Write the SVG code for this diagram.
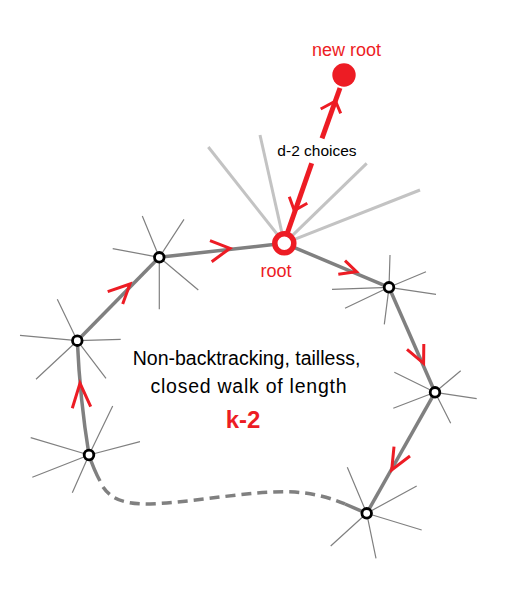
<svg xmlns="http://www.w3.org/2000/svg" width="520" height="616" viewBox="0 0 520 616">
<style>
.edge{stroke:#808080;stroke-width:3.5;fill:none;stroke-linecap:butt}
.dash{stroke:#808080;stroke-width:3.5;fill:none;stroke-dasharray:10 6}
.spoke{stroke:#808080;stroke-width:1.2;fill:none}
.light{stroke:#c3c3c3;stroke-width:3;fill:none}
.chev{stroke:#ed1c24;stroke-width:3;fill:none;stroke-linecap:butt;stroke-linejoin:miter}
.red{stroke:#ed1c24;stroke-width:5;fill:none}
.node{fill:#fff;stroke:#000;stroke-width:2.8}
text{font-family:"Liberation Sans",Arial,sans-serif}
.lbl{font-size:19.5px;fill:#000;text-anchor:middle}
.rl{font-size:18px;fill:#ed1c24;text-anchor:middle}
</style>
<g id="connectors">
<line class="edge" x1="159.3" y1="257.3" x2="284.3" y2="243.3"/>
<line class="edge" x1="284.3" y1="243.3" x2="389" y2="287.3"/>
<line class="edge" x1="389" y1="287.3" x2="435" y2="392.3"/>
<line class="edge" x1="435" y1="392.3" x2="366.7" y2="513.3"/>
<line class="edge" x1="77.3" y1="340.7" x2="159.3" y2="257.3"/>
<path class="edge" d="M89,455 Q80,400 77.3,340.7"/>
<path class="edge" d="M89,455 Q94,470 100,481"/>
<path class="dash" d="M103,487 C112,500 125,504 150,504 C200,502 250,490 295,492 C320,494 335,500 345,504"/>
<path class="edge" d="M345,504 L366.7,513.3"/>
<line class="red" x1="340" y1="88" x2="322" y2="138.3"/>
<line class="red" x1="311.7" y1="163.3" x2="287" y2="234"/>
<polyline class="chev" points="320.7,109 335.5,101 340.7,113.3"/>
<polyline class="chev" points="289.3,196.7 294.3,210.5 307.3,203.3"/>
<polyline class="chev" points="210,240.7 230,248.3 211.7,261.7"/>
<polyline class="chev" points="345,260.7 356.5,271.7 338.3,274.2"/>
<polyline class="chev" points="407,349.3 423.6,363.3 423.8,344"/>
<polyline class="chev" points="394,446.7 391.7,470 410,456"/>
<polyline class="chev" points="72.3,408.3 80,383.3 90.7,406.7"/>
<polyline class="chev" points="107.7,291.7 130,284 122.7,304"/>
</g>
<g id="root">
<line class="light" x1="284.3" y1="243.3" x2="208.3" y2="147"/>
<line class="light" x1="284.3" y1="243.3" x2="260" y2="135"/>
<line class="light" x1="284.3" y1="243.3" x2="366.7" y2="163.3"/>
<line class="light" x1="284.3" y1="243.3" x2="420" y2="190"/>
<circle cx="284.3" cy="243.3" r="9.5" fill="#fff" stroke="#ed1c24" stroke-width="5.5"/>
<text class="rl" x="276" y="276.5">root</text>
</g>
<g id="new-root">
<circle cx="344" cy="75" r="11.7" fill="#ed1c24"/>
<text class="rl" x="346.5" y="56">new root</text>
</g>
<g id="choices-label">
<text x="317" y="156" font-size="15.5" fill="#000" text-anchor="middle">d-2 choices</text>
</g>
<g id="n1">
<path class="spoke" d="M159.3,257.3L142.3,216M159.3,257.3L184,219.3M159.3,257.3L112.7,248.7M159.3,257.3L198.3,290M159.3,257.3L159.3,309.3"/>
<circle class="node" cx="159.3" cy="257.3" r="4.8"/>
</g>
<g id="n2">
<path class="spoke" d="M77.3,340.7L57.3,299.3M77.3,340.7L20,335.3M77.3,340.7L120.7,339.3M77.3,340.7L36,379.3M77.3,340.7L106,378.3"/>
<circle class="node" cx="77.3" cy="340.7" r="4.8"/>
</g>
<g id="n3">
<path class="spoke" d="M89,455L30.7,437.7M89,455L112.7,406M89,455L140,441.7M89,455L32.3,477.3M89,455L72.3,492.7"/>
<circle class="node" cx="89" cy="455" r="4.8"/>
</g>
<g id="n4">
<path class="spoke" d="M389,287.3L390,255M389,287.3L426,271.7M389,287.3L332,289.3M389,287.3L436,294.3M389,287.3L345,308.3M389,287.3L384.3,324.3"/>
<circle class="node" cx="389" cy="287.3" r="4.8"/>
</g>
<g id="n5">
<path class="spoke" d="M435,392.3L394.3,372.3M435,392.3L460.7,370.7M435,392.3L476.7,398.7M435,392.3L393.3,408.3M435,392.3L450.7,423.3"/>
<circle class="node" cx="435" cy="392.3" r="4.8"/>
</g>
<g id="n6">
<path class="spoke" d="M366.7,513.3L347.3,467.3M366.7,513.3L416.7,486M366.7,513.3L421.7,530M366.7,513.3L330.7,546M366.7,513.3L376,558.3"/>
<circle class="node" cx="366.7" cy="513.3" r="4.8"/>
</g>
<g id="walk-label">
<text class="lbl" x="246.5" y="365">Non-backtracking, tailless,</text>
<text class="lbl" x="248.5" y="393" textLength="196" lengthAdjust="spacing">closed walk of length</text>
<text x="243" y="428" font-size="24" font-weight="bold" fill="#ed1c24" text-anchor="middle">k-2</text>
</g>
</svg>
